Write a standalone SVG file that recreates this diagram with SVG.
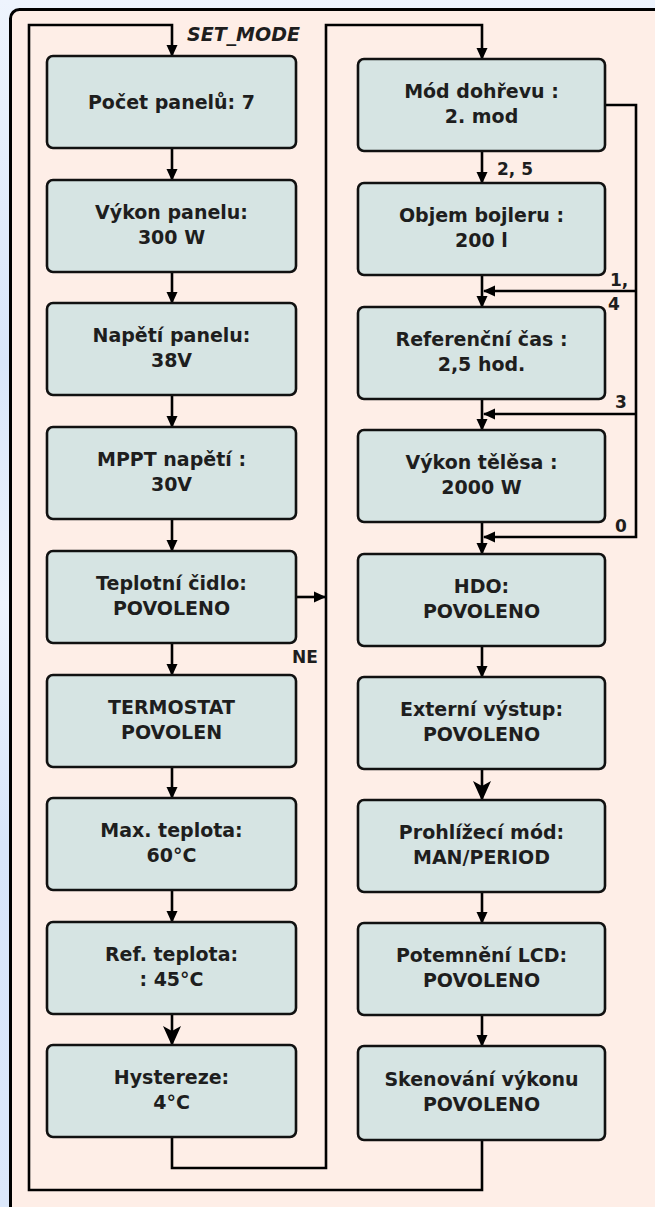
<svg xmlns="http://www.w3.org/2000/svg" width="655" height="1207" viewBox="0 0 655 1207">
<defs>
<linearGradient id="bg" x1="0" y1="0" x2="0" y2="1">
<stop offset="0" stop-color="#eef4fd"/>
<stop offset="0.3" stop-color="#d9e6fa"/>
<stop offset="0.5" stop-color="#eef4fd"/>
<stop offset="0.7" stop-color="#d8e5fa"/>
<stop offset="1" stop-color="#dce8fb"/>
</linearGradient>
<marker id="arr" markerUnits="userSpaceOnUse" markerWidth="12" markerHeight="12" viewBox="0 0 12 12" refX="11" refY="6" orient="auto">
<path d="M0,0.5 L12,6 L0,11.5 z" fill="#000"/>
</marker>
<marker id="arrL" markerUnits="userSpaceOnUse" markerWidth="20" markerHeight="20" viewBox="0 0 20 20" refX="19" refY="10" orient="auto">
<path d="M0,1 L20,10 L0,19 L5,10 z" fill="#000"/>
</marker>
<style>
.node{fill:#d6e4e3;stroke:#111;stroke-width:2.6}
.t{font-family:"DejaVu Sans",sans-serif;font-weight:bold;font-size:19px;fill:#1e1e1e;text-anchor:middle}
.lbl{font-family:"DejaVu Sans",sans-serif;font-weight:bold;font-size:17px;fill:#1e1e1e}
.c{fill:none;stroke:#000;stroke-width:2.6}
.a{marker-end:url(#arr)}
.aL{marker-end:url(#arrL)}
</style>
</defs>
<rect x="0" y="0" width="655" height="1207" fill="url(#bg)"/>
<rect x="10.5" y="9.5" width="700" height="1260" rx="9" fill="#feeee7" stroke="#000" stroke-width="3"/>

<g id="connectors">
<path class="c a" d="M482,1140 V1190 H29 V25 H172 V56"/>
<path class="c a" d="M172,1137 V1168 H326 V25 H482 V59"/>
<path class="c a" d="M172,148 V180"/>
<path class="c a" d="M172,272 V303"/>
<path class="c a" d="M172,395 V427"/>
<path class="c a" d="M172,519 V551"/>
<path class="c a" d="M172,643 V675"/>
<path class="c a" d="M172,767 V798"/>
<path class="c a" d="M172,890 V922"/>
<path class="c aL" d="M172,1014 V1045"/>
<path class="c a" d="M296,597 H325"/>
<path class="c a" d="M482,151 V183"/>
<path class="c a" d="M482,275 V307"/>
<path class="c a" d="M482,399 V430"/>
<path class="c a" d="M482,522 V554"/>
<path class="c a" d="M482,646 V677"/>
<path class="c aL" d="M482,769 V800"/>
<path class="c a" d="M482,892 V923"/>
<path class="c a" d="M482,1015 V1046"/>
<path class="c a" d="M605,105 H636 V537 H484"/>
<path class="c a" d="M636,291 H484"/>
<path class="c a" d="M636,414 H484"/>
<text class="lbl" x="497" y="175">2, 5</text>
<text class="lbl" x="610" y="286">1,</text>
<text class="lbl" x="608" y="310">4</text>
<text class="lbl" x="615" y="408">3</text>
<text class="lbl" x="615" y="532">0</text>
<text class="lbl" x="292" y="663">NE</text>
<text class="lbl" x="187" y="41" style="font-style:italic;font-size:19px">SET_MODE</text>
</g>

<g id="n1"><rect class="node" x="47" y="56" width="249" height="92" rx="6"/><text class="t" x="171.5" y="108.5">Počet panelů: 7</text></g>
<g id="n2"><rect class="node" x="47" y="180" width="249" height="92" rx="6"/><text class="t" x="171.5" y="219">Výkon panelu:</text><text class="t" x="171.5" y="244">300 W</text></g>
<g id="n3"><rect class="node" x="47" y="303" width="249" height="92" rx="6"/><text class="t" x="171.5" y="342">Napětí panelu:</text><text class="t" x="171.5" y="367">38V</text></g>
<g id="n4"><rect class="node" x="47" y="427" width="249" height="92" rx="6"/><text class="t" x="171.5" y="466">MPPT napětí :</text><text class="t" x="171.5" y="491">30V</text></g>
<g id="n5"><rect class="node" x="47" y="551" width="249" height="92" rx="6"/><text class="t" x="171.5" y="590">Teplotní čidlo:</text><text class="t" x="171.5" y="615">POVOLENO</text></g>
<g id="n6"><rect class="node" x="47" y="675" width="249" height="92" rx="6"/><text class="t" x="171.5" y="714">TERMOSTAT</text><text class="t" x="171.5" y="739">POVOLEN</text></g>
<g id="n7"><rect class="node" x="47" y="798" width="249" height="92" rx="6"/><text class="t" x="171.5" y="837">Max. teplota:</text><text class="t" x="171.5" y="862">60°C</text></g>
<g id="n8"><rect class="node" x="47" y="922" width="249" height="92" rx="6"/><text class="t" x="171.5" y="961">Ref. teplota:</text><text class="t" x="171.5" y="986">: 45°C</text></g>
<g id="n9"><rect class="node" x="47" y="1045" width="249" height="92" rx="6"/><text class="t" x="171.5" y="1084">Hystereze:</text><text class="t" x="171.5" y="1109">4°C</text></g>

<g id="m1"><rect class="node" x="358" y="59" width="247" height="92" rx="6"/><text class="t" x="481.5" y="98">Mód dohřevu :</text><text class="t" x="481.5" y="123">2. mod</text></g>
<g id="m2"><rect class="node" x="358" y="183" width="247" height="92" rx="6"/><text class="t" x="481.5" y="222">Objem bojleru :</text><text class="t" x="481.5" y="247">200 l</text></g>
<g id="m3"><rect class="node" x="358" y="307" width="247" height="92" rx="6"/><text class="t" x="481.5" y="346">Referenční čas :</text><text class="t" x="481.5" y="371">2,5 hod.</text></g>
<g id="m4"><rect class="node" x="358" y="430" width="247" height="92" rx="6"/><text class="t" x="481.5" y="469">Výkon tělěsa :</text><text class="t" x="481.5" y="494">2000 W</text></g>
<g id="m5"><rect class="node" x="358" y="554" width="247" height="92" rx="6"/><text class="t" x="481.5" y="593">HDO:</text><text class="t" x="481.5" y="618">POVOLENO</text></g>
<g id="m6"><rect class="node" x="358" y="677" width="247" height="92" rx="6"/><text class="t" x="481.5" y="716">Externí výstup:</text><text class="t" x="481.5" y="741">POVOLENO</text></g>
<g id="m7"><rect class="node" x="358" y="800" width="247" height="92" rx="6"/><text class="t" x="481.5" y="839">Prohlížecí mód:</text><text class="t" x="481.5" y="864">MAN/PERIOD</text></g>
<g id="m8"><rect class="node" x="358" y="923" width="247" height="92" rx="6"/><text class="t" x="481.5" y="962">Potemnění LCD:</text><text class="t" x="481.5" y="987">POVOLENO</text></g>
<g id="m9"><rect class="node" x="358" y="1046" width="247" height="94" rx="6"/><text class="t" x="481.5" y="1086">Skenování výkonu</text><text class="t" x="481.5" y="1111">POVOLENO</text></g>
</svg>
